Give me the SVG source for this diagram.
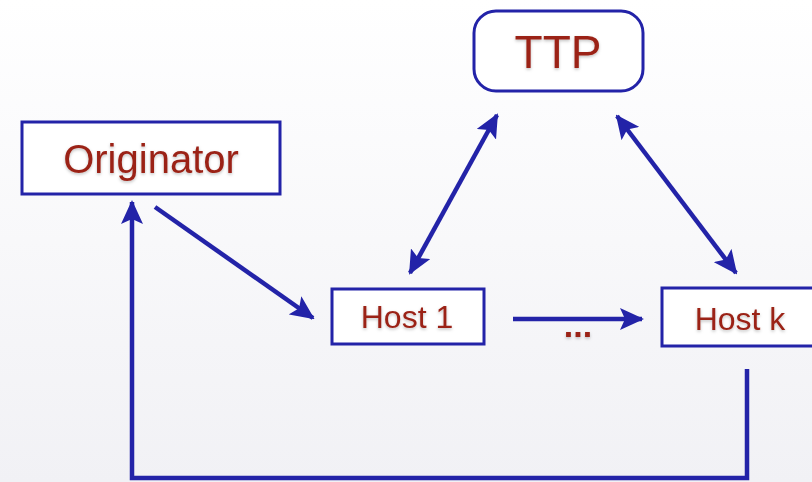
<svg xmlns="http://www.w3.org/2000/svg" width="812" height="482" viewBox="0 0 812 482">
<defs>
<linearGradient id="bg" x1="0" y1="0" x2="0" y2="1">
<stop offset="0" stop-color="#ffffff"/>
<stop offset="1" stop-color="#f1f1f5"/>
</linearGradient>
<filter id="sh" x="-10%" y="-20%" width="120%" height="140%">
<feDropShadow dx="0" dy="1.5" stdDeviation="1.5" flood-color="#000" flood-opacity="0.25"/>
</filter>
<marker id="ah" viewBox="0 0 24 22" refX="22" refY="11" markerWidth="24" markerHeight="22" markerUnits="userSpaceOnUse" orient="auto-start-reverse">
<path d="M0,0 L24,11 L0,22 L5,11 Z" fill="#2323a8"/>
</marker>
</defs>
<style>
.box{fill:#ffffff;stroke:#2323a8;stroke-width:3}
.lbl{font-family:"Liberation Sans",Arial,sans-serif;fill:#9b2418;text-anchor:middle;filter:url(#sh)}
.con{fill:none;stroke:#2323a8;stroke-width:4.5}
</style>
<rect width="812" height="482" fill="url(#bg)"/>
<g id="connectors">
<line class="con" x1="155" y1="207" x2="313" y2="318" marker-end="url(#ah)"/>
<line class="con" x1="410" y1="273" x2="497" y2="115" marker-start="url(#ah)" marker-end="url(#ah)"/>
<line class="con" x1="617" y1="116" x2="736" y2="273" marker-start="url(#ah)" marker-end="url(#ah)"/>
<line class="con" x1="513" y1="319" x2="642" y2="319" stroke-width="3" marker-end="url(#ah)"/>
<polyline class="con" points="747,369 747,478 132,478 132,202" marker-end="url(#ah)"/>
</g>
<g id="ttp">
<rect class="box" x="474" y="11" width="169" height="80" rx="22"/>
<text class="lbl" x="558" y="68" font-size="46">TTP</text>
</g>
<g id="originator">
<rect class="box" x="22" y="122" width="258" height="72"/>
<text class="lbl" x="151" y="173" font-size="40">Originator</text>
</g>
<g id="host1">
<rect class="box" x="332" y="289" width="152" height="55"/>
<text class="lbl" x="407" y="328" font-size="32">Host 1</text>
</g>
<g id="hostk">
<rect class="box" x="662" y="288" width="160" height="58"/>
<text class="lbl" x="740" y="330" font-size="32">Host k</text>
</g>
<text class="lbl" x="578" y="337" font-size="34" font-weight="bold">...</text>
</svg>
